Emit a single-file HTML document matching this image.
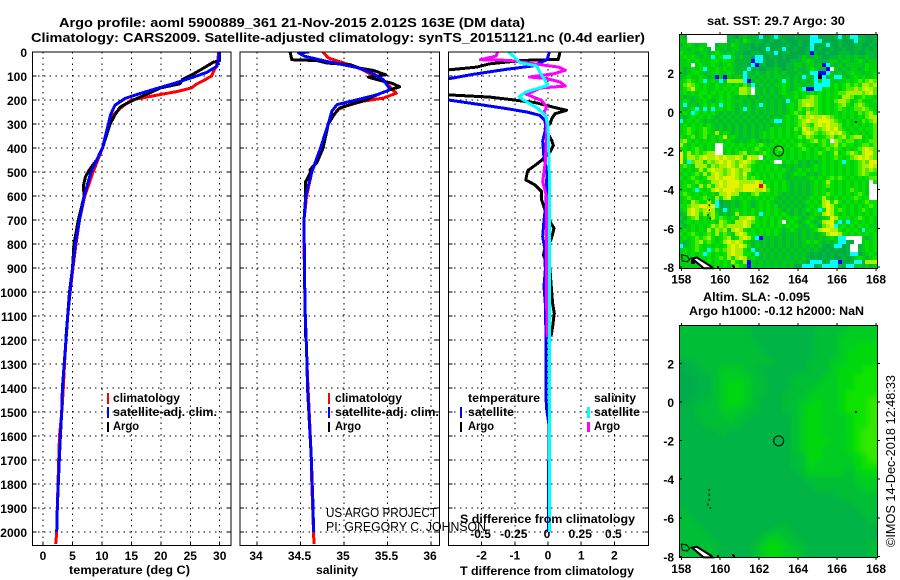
<!DOCTYPE html>
<html>
<head>
<meta charset="utf-8">
<title>Argo profile chart</title>
<style>
html,body{margin:0;padding:0;background:#fff;}
svg{display:block;}
text{font-family:"Liberation Sans",sans-serif;fill:#000;}
.t{font-size:13px;font-weight:bold;}
.k{font-size:12px;font-weight:bold;}
.n{font-size:13px;font-weight:normal;}
</style>
</head>
<body>
<svg id="chart" xmlns="http://www.w3.org/2000/svg" width="900" height="580" viewBox="0 0 900 580">
<defs>
<clipPath id="clip-temp"><rect x="32" y="52" width="199" height="494"/></clipPath>
<clipPath id="clip-sal"><rect x="240" y="52" width="199.5" height="494"/></clipPath>
<clipPath id="clip-diff"><rect x="448.5" y="52" width="200" height="494"/></clipPath>
<clipPath id="clip-sla"><rect x="679" y="326" width="199" height="232"/></clipPath>
<filter id="soft" x="-10%" y="-10%" width="120%" height="120%"><feGaussianBlur stdDeviation="3"/></filter>
</defs>
<g id="maps"></g>
<g id="panels"></g>
<text class="t" x="59" y="27" textLength="466" lengthAdjust="spacingAndGlyphs">Argo profile: aoml 5900889_361 21-Nov-2015 2.012S 163E (DM data)</text>
<text class="t" x="31" y="42" textLength="614" lengthAdjust="spacingAndGlyphs">Climatology: CARS2009. Satellite-adjusted climatology: synTS_20151121.nc (0.4d earlier)</text>
<text class="k" x="69" y="574" textLength="121" lengthAdjust="spacingAndGlyphs">temperature (deg C)</text>
<text class="k" x="316" y="574" textLength="42" lengthAdjust="spacingAndGlyphs">salinity</text>
<text class="k" x="460" y="575" textLength="174" lengthAdjust="spacingAndGlyphs">T difference from climatology</text>
<text class="k" x="460" y="523" textLength="175" lengthAdjust="spacingAndGlyphs">S difference from climatology</text>
<text class="n" x="326" y="517" textLength="111" lengthAdjust="spacingAndGlyphs">US ARGO PROJECT</text>
<text class="n" x="326" y="531" textLength="160" lengthAdjust="spacingAndGlyphs">PI: GREGORY C. JOHNSON</text>

<g>
<rect x="107" y="393" width="2" height="11" fill="#f00"/>
<text class="k" x="113" y="402" textLength="67" lengthAdjust="spacingAndGlyphs">climatology</text>
<rect x="107" y="407" width="2" height="11" fill="#00f"/>
<text class="k" x="113" y="416" textLength="104" lengthAdjust="spacingAndGlyphs">satellite-adj. clim.</text>
<rect x="107" y="422" width="2" height="10" fill="#000"/>
<text class="k" x="113" y="430" textLength="26" lengthAdjust="spacingAndGlyphs">Argo</text>
</g>
<g>
<rect x="328" y="393" width="2" height="11" fill="#f00"/>
<text class="k" x="335" y="402" textLength="67" lengthAdjust="spacingAndGlyphs">climatology</text>
<rect x="328" y="407" width="2" height="11" fill="#00f"/>
<text class="k" x="335" y="416" textLength="104" lengthAdjust="spacingAndGlyphs">satellite-adj. clim.</text>
<rect x="328" y="422" width="2" height="10" fill="#000"/>
<text class="k" x="335" y="430" textLength="26" lengthAdjust="spacingAndGlyphs">Argo</text>
</g>
<g>
<text class="k" x="468" y="402" textLength="72" lengthAdjust="spacingAndGlyphs">temperature</text>
<rect x="460" y="407" width="2" height="11" fill="#00f"/>
<text class="k" x="468" y="416" textLength="46" lengthAdjust="spacingAndGlyphs">satellite</text>
<rect x="460" y="422" width="2" height="10" fill="#000"/>
<text class="k" x="468" y="430" textLength="26" lengthAdjust="spacingAndGlyphs">Argo</text>
<text class="k" x="594" y="402" textLength="42" lengthAdjust="spacingAndGlyphs">salinity</text>
<rect x="587" y="407" width="3" height="11" fill="#0ff"/>
<text class="k" x="594" y="416" textLength="46" lengthAdjust="spacingAndGlyphs">satellite</text>
<rect x="587" y="422" width="3" height="10" fill="#f0f"/>
<text class="k" x="594" y="430" textLength="26" lengthAdjust="spacingAndGlyphs">Argo</text>
</g>

<text class="k" x="707" y="25" textLength="138" lengthAdjust="spacingAndGlyphs">sat. SST: 29.7 Argo: 30</text>
<text class="k" x="703" y="301" textLength="107" lengthAdjust="spacingAndGlyphs">Altim. SLA: -0.095</text>
<text class="k" x="689" y="315" textLength="175" lengthAdjust="spacingAndGlyphs">Argo h1000: -0.12 h2000: NaN</text>
<text class="n" transform="translate(895,547) rotate(-90)" textLength="172" lengthAdjust="spacingAndGlyphs">©IMOS 14-Dec-2018 12:48:33</text>
</svg>

<script>
var depthTicks = [0,100,200,300,400,500,600,700,800,900,1000,1100,1200,1300,1400,1500,1600,1700,1800,1900,2000];
var tempTicks = [0,5,10,15,20,25,30];
var salTicks = [34,34.5,35,35.5,36];
var salTickLabels = ['34','34.5','35','35.5','36'];
var diffTTicks = [-2,-1,0,1,2];
var diffSTicks = [-0.5,-0.25,0,0.25,0.5];
var diffSLabels = ['-0.5','-0.25','0','0.25','0.5'];
var lonTicks = [158,160,162,164,166,168];
var latTicks = [2,0,-2,-4,-6,-8];
var argoLon = [163];
var argoLat = [-2.012];

var tempClimDepth = [0,40,60,80,100,120,135,150,165,180,200,225,262,300,400,500,600,700,800,900,1000,1100,1200,1300,1400,1500,1600,1700,1800,1900,2000,2050];
var tempClimVal = [29.8,29.7,29.4,29.0,28.6,27.2,26,25.2,22.7,19.3,15,13.6,11.9,11.4,10.1,8.5,7.1,6.2,5.6,5.1,4.6,4.2,3.9,3.65,3.45,3.2,2.8,2.66,2.55,2.43,2.32,2.15];
var tempSatDepth = [0,30,60,85,105,132,152,173,194,222,260,300,400,500,600,700,800,900,1000,1100,1200,1300,1400,1500,1600,1700,1800,1900,2000];
var tempSatVal = [29.9,29.9,29.5,27.8,25.5,22.1,19.3,16.5,13.9,12.2,11.5,11.1,10.1,8.15,7.0,6.2,5.5,5.0,4.6,4.2,3.9,3.6,3.3,3.17,2.95,2.77,2.6,2.43,2.32];
var tempArgoDepth = [0,35,43,68,92,114,132,150,173,194,215,229,262,300,400,450,490,520,560,600,700,800,900,1000,1190];
var tempArgoVal = [30,30,28.9,27.2,25.5,23.7,23.3,19.9,17.9,15.9,14.2,13.1,12.2,11.4,10.1,9.1,7.9,7.2,6.85,7,6,5.26,5,4.5,3.9];

var salClimDepth = [0,25,54,75,103,130,172,192,205,224,240,260,300,400,500,600,700,800,1000,1100,1200,1300,1400,1500,1600,1700,1800,1900,2000,2050];
var salClimVal = [34.76,34.82,35.07,35.22,35.36,35.49,35.6,35.45,35.22,35.03,34.93,34.89,34.82,34.74,34.63,34.57,34.54,34.54,34.55,34.555,34.565,34.575,34.586,34.6,34.613,34.625,34.63,34.64,34.65,34.655];
var salSatDepth = [0,3,18,39,53,67,87,115,150,160,178,199,219,247,300,400,500,600,700,1000,1100,1200,1300,1400,1500,1600,1700,1800,1900,2000];
var salSatVal = [34.6,34.475,34.55,34.8,34.99,35.18,35.32,35.45,35.52,35.51,35.38,35.15,34.92,34.86,34.82,34.73,34.63,34.56,34.54,34.55,34.555,34.565,34.575,34.58,34.595,34.61,34.625,34.635,34.645,34.65];
var salArgoDepth = [0,32,36,46,53,67,77,95,105,115,130,145,157,178,199,219,233,262,300,400,460,490,500,540,600,700,1000,1190];
var salArgoVal = [34.38,34.4,34.69,34.8,35.07,35.18,35.34,35.48,35.28,35.38,35.55,35.64,35.53,35.38,35.26,35.07,34.95,34.88,34.82,34.76,34.69,34.61,34.62,34.56,34.56,34.54,34.55,34.56];

var diffTArgoDepth = [0,31,35,49,63,76,178,188,198,212,230,243,257,278,299,320,368,389,417,451,472,493,505,533,554,582,617,658,707,735,783,818,846,880,908,963,1047,1089,1144,1186];
var diffTArgoVal = [0.36,0.31,-0.75,-1.75,-2.15,-3.1,-3.1,-1.75,-1.14,-0.34,0.16,0.56,0.21,0.11,0.06,-0.09,0.11,0.16,0.06,-0.19,-0.39,-0.6,-0.63,-0.67,-0.39,-0.19,-0.19,-0.09,0.06,0.18,0.09,-0.09,-0.14,-0.04,0.06,0.09,0.14,0.19,0.14,0.09];
var diffTSatDepth = [0,31,58,72,93,114,198,215,236,250,264,285,320,372,442,497,630,700,770,825,908,977,1047,1186,1367,1477,1555,1650,1800,2000];
var diffTSatVal = [0.04,-0.02,-0.45,-1.25,-2.25,-3.1,-3.1,-2.25,-1.25,-0.64,-0.24,-0.09,-0.07,-0.16,-0.12,-0.03,-0.06,-0.12,-0.16,-0.09,-0.08,-0.12,-0.08,-0.06,-0.06,-0.05,0.03,0.03,0.01,0.01];
var diffSArgoDepth = [0,17,32,35,54,63,76,90,104,111,125,142,150,167,174,188,201,229,250,280,340,458,540,603,800,1060,1190];
var diffSArgoVal = [-0.38,-0.39,-0.51,-0.29,-0.04,0.08,0.13,0.05,-0.14,-0.01,0.09,0.13,-0.06,-0.12,-0.17,-0.11,-0.05,-0.01,-0.03,-0.01,-0.01,-0.02,-0.04,-0.01,-0.01,-0.01,-0.005];
var diffSSatDepth = [0,17,45,58,86,111,139,153,167,188,208,236,264,300,500,800,1200,1600,2000];
var diffSSatVal = [-0.3,-0.26,-0.21,-0.085,-0.06,-0.03,0,-0.085,-0.17,-0.22,-0.16,-0.075,-0.02,0,0.01,0.01,0.01,0.01,0.01];

var sstPalette = {a:'#00aa46',b:'#00ba38',c:'#00d010',d:'#00e400',e:'#50ea00',f:'#a8f000',g:'#e4f400',C:'#00ffff',B:'#0000ff',W:'#ffffff',R:'#ff0000',K:'#000000'};
var sstRows = [
"cbWWWWWWWWWWbbabcbbbCaabCbaaabaaaCCaaaabCabCCbbaab",
"ccWWWWWWWWWWbbcbdcbbbaabaabaaabaaCCCaaaabaaaCbbaab",
"bcdcbccWWbccbdcbbbabaabaaaabaabaaCaabCaabaaabbaaba",
"ccbccdcbWcbcbccbbbaaabCaabCaabaabCabaabaabaabbabab",
"dcccbccbcdcbccbbaabbaabbCaabaaaabBbaabaabbbabaabbb",
"cdcdcbccCcdCCcbcbbaCCaabaabaaabcbbcbaabbcbcbcbbcbb",
"ccdcdcccddcdccbbbbBCCbaabaaabbbcdcbbbbccbccbcdcbcc",
"cccWcdccdcbcdcbbbaCBbbaabaabbccbccbcBCcbcbccccbdcc",
"cbcdcdCccdcdccbbbCbbaabbcbabbcbbcdcbbBWcbcbccbcdcc",
"cbccdcbccdccdcbbCbbcbbcbcbcbbbcbbCCBBCcbcbcdccbccd",
"bcdccdcbcBcBcbccCbcbcbcbccbcbcbCcbCKCbcCCcbcdcdccd",
"cdedcdCcdcCbffffCBbcbcbcbcCcbcbcbcCcCCcbccdcdedefe",
"cefedcdccdccdcdcecCbcbcbccdcbccbccCCCCcdcdededffef",
"cdegdcdccdcdcdcffeWcbcbcbcdcbcdCBBCCcdcdcdeefefgfe",
"cdcdcddcdcdcdcdffeWcbcbcbcdccdcdcdcdcdcdeeffffefge",
"cbcbcdcdccdcdcbccbcbcbcbcbcccdcdefedcdcdcffecdeddc",
"cdcbccdcbcdcdcccbcbcbcbcbcbCccefffedcdceffecdedccd",
"cCbcbcdcdcCcdcbcbcbcCcbcbcbcdcefgfedcdcdefdcefedcc",
"cbcdCcCcCcdcdcbcCcbcbcbcbcbcdcedededcdcdedcdeefedc",
"cdcCdcdcdcbcbcbcbcbcbcbcbcbcdedcfeedcdcdcdcdcedefd",
"cbcdcdcdcbcbcbcbcbcbcbcbcbcdcdfefgffgfedcdcdcdceff",
"CcdcdcbcbcbcbcbcbcbcbcbcCCcdcdefgffgggfedcdcdcedef",
"cdcdcdcdcbcbcbcbcbcbcbcbcbcdcdefedfgfgffecdcdcdcde",
"cdedcdedcbcbcbcbcbcbcbcdcdcdcedgfefefgfgedcdcdcdde",
"cdedcdedcfcdcbcbcbcbcdcdcdcdcdcfgfedefgfgedcdcdcde",
"dcdecdecdcdgcdcbcbcbcdcdcdcdcdedfedcdefdefdeffcdce",
"efdcdcdcdcdcdcbcbcdcbcbcdcdcdcdcdefdedWfedeecdcdee",
"fdcdcdcdcWWdcdcdcdcdedcdcdcdcdedcdcdedefdeddcdeede",
"ddcdedcdcWWcdcdcdcdedcdcdedcdcdedcdcdededcdcdefgfe",
"gdfdedeffWWcdcdefcdcdedcdcdcdcdcdcdedcdfcdefedfgge",
"gdffefgffgfgffgfdgffWcdcdcdcdcdcdcdcdcdedcdefgfgfe",
"gcCeffdfefgfgfefgfedcdcdWWcdcdbcbcbcdcdcdCdcdefegg",
"dedcfffdfeffgfegfedcdcdcdcbcbcbcbcdcdcdcdcdcdeffgf",
"dcdcdfdfgffefgfeffdcdcdcdcdcbcdcdcdcdcdcdcdcdefefe",
"cdcdedfdfgfefgfegdcdcdcdcdcbcdcdbcbcdcdcdcdcdefedd",
"dcdedcdffgfgggfefdedcdcdcdcbcbcbcdcdcdededcdcdcdee",
"cdcdedcdffgfgggffffgfcdcdcdcbcbcbcdcdfdcdcdcdcdcWd",
"cdedcfdfdfgfgggfggggRgdcdcdcbcbcbcdcdedcdcdcdcdcWW",
"cdcdCdcdfgfgggffgggffgecdcdcbcbcbcdcdcdcdcdedcdcWW",
"dedcdcdcdcffgffcdcefdcdcdcbcbcbcbcdcdedcdcdcdedcWW",
"cdedcdedcfdfgdcdcdcdcdcdcbcbcbcbcdcdfdcdcdcdedcdWW",
"cdcfeddfcCabbcbcdcbcdcdcbcbcbcbcdcdcfgdfdcdcdcdedd",
"ddeffggfgCabbcbcdcbcdcdcdbcbcbcbcdcdfgfdcdcdcdcded",
"cdfgfefgfcbCbcdcdcdcdcdcdcbcbcbcdcdCdgfdedcdcdedcd",
"bcfgfdfefdbcbcfcdcdcCcdcdcdcbcbcbcdcfgfdcdcdcdcdcd",
"cbdefcdcfdedcdcffgfdcdcdcdcdcdcbcdcbcdgfdcdcdedcdc",
"bcdcdcdcdcfedcffgfedcdcdcdWcdcbcdcbcfggdCcCcdcdcdc",
"cbcdcdcdfefeffffgfcdcdcdcdcdcdcbcdcbefgCcdcdcdcdcc",
"cdcdcdcfdfefcfgfdcdcdcdcdcbcdcbcbcdfggffdcdcdcCcdc",
"dcdedcdedfdedcfgfddcdcdcdcbcbcbcbcbcdfggfdcdcdcdcd",
"cdcdedefdcdefcdfgfdCBcbcbcbcbcbcbcbcbcdcCCWWWWcbcd",
"cbcdefdedcdfgfgfdcbcbcbcbcbcbcbcdcdcbcbcCCbaWWcdcd",
"CbcdedcdcdcdfgfgfdbcbcbcbcbcbcbcbcbcbabCCabWWbcdcd",
"cdcdedcCdedefgffdcCbcbcbcbcbcbcbcbcbababaabWWbcdcd",
"cdcdcdCdcdcdfgffddcCbcbcbcbcbcbcbabababababCCabcdc",
"cccdcdcdcdedfdfgfcdcbcbcbcbcbcbcbabababaababcdcbcd",
"cccKcdcdcdcdcfdcfBcbcbcbcbcbcbcbaCCCabCCBaabCCbfff",
"ccccccKdcdcdcdedcBcbcbcbcbcbcaaCCCabCCCCbaCCbcbcbc"
];
var slaPalette = ['#00a850','#00ac4c','#00b444','#00be36','#00cc22','#00d810','#0ce400','#34e800'];
var slaRows = [
"3333333332222222233334444",
"3333333332222222233344444",
"3333333333222222233344555",
"3333333333322222233345555",
"2233333333332222333445555",
"1223344433222222333455566",
"1122344443322233334455666",
"1122345543322233344455666",
"1122345543322333444456666",
"1223345543222334454456667",
"2233344433222334554456667",
"2233334332222234554445667",
"2223333322222234554445667",
"2222232222222234554445677",
"2222222222222234555445677",
"2222222222222234554445677",
"2222222222222233554444567",
"2222222222222233544444566",
"2222222222222223444443455",
"2222222222222222333333444",
"2222222222222222233333344",
"2222222222222222222233333",
"2222222222222222222222333",
"3222222222222222222222233",
"3322222222222222222222223",
"3332222222223322222222222",
"3333222222344332222222222",
"3333322223455433222222223",
"3333322223455443222222223"
];
var landLon = [158.55,158.8,159.55,159.6,159.15];
var landLat = [-7.55,-7.5,-7.98,-8.05,-8.05];
var reefLoopLon = [158,158.3,158.42,158.3,158.05,158];
var reefLoopLat = [-7.35,-7.42,-7.6,-7.72,-7.68,-7.35];
var islandLon = [159.45,159.42,159.45,159.35,159.5,159.7];
var islandLat = [-4.5,-4.6,-5.0,-5.4,-5.5,-5.55];
var speckLon = [166.95,160.65,160.7,159.9];
var speckLat = [-0.5,-7.92,-8.0,-7.98];

var NS = 'http://www.w3.org/2000/svg';
var panelsG = document.getElementById('panels');
var mapsG = document.getElementById('maps');

function yDepth(d){ return 52 + d * 0.24; }
function xTemp(t){ return 43 + t * 5.89; }
function xSal(s){ return 257 + (s - 34) * 87; }
function xDiffT(v){ return 548 + v * 33.2; }
function xDiffS(v){ return 548 + v * 132.8; }

function svgEl(tag, parent){
  var el = document.createElementNS(NS, tag);
  parent.appendChild(el);
  return el;
}

function drawSeries(parent, depths, vals, xf, color, clip, name){
  var pts = [];
  for (var i = 0; i < depths.length; i++) { pts.push(xf(vals[i]).toFixed(1) + ',' + yDepth(depths[i]).toFixed(1)); }
  var el = svgEl('polyline', parent);
  el.setAttribute('points', pts.join(' '));
  el.setAttribute('fill', 'none');
  el.setAttribute('stroke', color);
  el.setAttribute('stroke-width', '3');
  el.setAttribute('shape-rendering', 'crispEdges');
  el.setAttribute('stroke-linejoin', 'round');
  el.setAttribute('clip-path', 'url(#' + clip + ')');
  
  
}

function gridLine(parent, x1, y1, x2, y2){
  var el = svgEl('line', parent);
  el.setAttribute('x1', x1); el.setAttribute('y1', y1); el.setAttribute('x2', x2); el.setAttribute('y2', y2);
  el.setAttribute('stroke', '#000');
  el.setAttribute('stroke-width', '1');
  el.setAttribute('stroke-dasharray', '1.5 4.2');
  el.setAttribute('shape-rendering', 'crispEdges');
  
  
}

function tick(parent, x1, y1, x2, y2){
  var el = svgEl('line', parent);
  el.setAttribute('x1', x1); el.setAttribute('y1', y1); el.setAttribute('x2', x2); el.setAttribute('y2', y2);
  el.setAttribute('stroke', '#000');
  el.setAttribute('stroke-width', '1');
  el.setAttribute('shape-rendering', 'crispEdges');
  
  
}

function label(parent, x, y, str, anchor, name){
  var el = svgEl('text', parent);
  el.setAttribute('x', x); el.setAttribute('y', y);
  el.setAttribute('class', 'k');
  el.setAttribute('text-anchor', anchor);
  
  
  el.textContent = str;
}

function frame(parent, x, y, w, h, sw, name){
  var el = svgEl('rect', parent);
  el.setAttribute('x', x); el.setAttribute('y', y); el.setAttribute('width', w); el.setAttribute('height', h);
  el.setAttribute('fill', 'none');
  el.setAttribute('stroke', '#000');
  el.setAttribute('stroke-width', sw);
  el.setAttribute('shape-rendering', 'crispEdges');
  
  
}

function panelAxes(left, right, xf, ticks, name){
  var g = svgEl('g', panelsG);
  
  
  var top = 52, bottom = 545.5;
  depthTicks.forEach(function(d){
    var y = yDepth(d);
    gridLine(g, left, y, right, y);
    tick(g, left, y, left + 4, y);
    tick(g, right - 4, y, right, y);
  });
  ticks.forEach(function(v){
    var x = xf(v);
    gridLine(g, x, top, x, bottom);
    tick(g, x, bottom - 4, x, bottom);
  });
  return g;
}

var tempG = panelAxes(32.5, 231, xTemp, tempTicks, 'temperature-panel');
var salG = panelAxes(240, 439.5, xSal, salTicks, 'salinity-panel');
var diffG = panelAxes(448.5, 648.5, xDiffT, diffTTicks, 'difference-panel');

depthTicks.forEach(function(d){
  label(tempG, 27, yDepth(d) + 5, String(d), 'end', 'depth-tick-label');
});
tempTicks.forEach(function(v){
  label(tempG, xTemp(v), 560, String(v), 'middle', 'temperature-tick-label');
});
salTicks.forEach(function(v, i){
  label(salG, xSal(v) - 1, 560, salTickLabels[i], 'middle', 'salinity-tick-label');
});
diffTTicks.forEach(function(v){
  label(diffG, xDiffT(v), 559.5, String(v), 'middle', 't-difference-tick-label');
});
diffSTicks.forEach(function(v, i){
  label(diffG, xDiffS(v) - 1, 538, diffSLabels[i], 'middle', 's-difference-tick-label');
});

drawSeries(tempG, tempClimDepth, tempClimVal, xTemp, '#ff0000', 'clip-temp', 'temperature-climatology-line');
drawSeries(tempG, tempArgoDepth, tempArgoVal, xTemp, '#000000', 'clip-temp', 'temperature-argo-line');
drawSeries(tempG, tempSatDepth, tempSatVal, xTemp, '#0000ff', 'clip-temp', 'temperature-satellite-line');
drawSeries(salG, salClimDepth, salClimVal, xSal, '#ff0000', 'clip-sal', 'salinity-climatology-line');
drawSeries(salG, salArgoDepth, salArgoVal, xSal, '#000000', 'clip-sal', 'salinity-argo-line');
drawSeries(salG, salSatDepth, salSatVal, xSal, '#0000ff', 'clip-sal', 'salinity-satellite-line');
drawSeries(diffG, diffTArgoDepth, diffTArgoVal, xDiffT, '#000000', 'clip-diff', 't-difference-argo-line');
drawSeries(diffG, diffTSatDepth, diffTSatVal, xDiffT, '#0000ff', 'clip-diff', 't-difference-satellite-line');
drawSeries(diffG, diffSArgoDepth, diffSArgoVal, xDiffS, '#ff00ff', 'clip-diff', 's-difference-argo-line');
drawSeries(diffG, diffSSatDepth, diffSSatVal, xDiffS, '#00ffff', 'clip-diff', 's-difference-satellite-line');

frame(tempG, 32.5, 52, 198.5, 493.5, 1, 'temperature-panel-frame');
frame(salG, 240, 52, 199.5, 493.5, 1, 'salinity-panel-frame');
frame(diffG, 448.5, 52, 200, 493.5, 1, 'difference-panel-frame');

function drawMap(name, rows, colorOf, latZero, latScale, latTop, latBottom, labelY, smooth){
  var g = svgEl('g', mapsG);
  
  
  var wrap = svgEl('g', g);
  var cells = svgEl('g', wrap);
  if (smooth) {
    wrap.setAttribute('clip-path', 'url(#clip-sla)');
    cells.setAttribute('filter', 'url(#soft)');
  }
  function xLon(lon){ return 681.3 + (lon - 158) * 19.47; }
  function yLat(lat){ return latZero - lat * latScale; }
  var lonMin = 157.9, lonMax = 168.07;
  var nRows = rows.length, nCols = rows[0].length;
  var dLon = (lonMax - lonMin) / nCols, dLat = (latTop - latBottom) / nRows;
  var pad = smooth ? 12 : 0;
  for (var r = 0; r < nRows; r++) {
    for (var c = 0; c < nCols; c++) {
      var ch = rows[r].charAt(c);
      if (!ch) continue;
      var x0 = Math.round(xLon(lonMin + c * dLon)), x1 = Math.round(xLon(lonMin + (c + 1) * dLon));
      var y0 = Math.round(yLat(latTop - r * dLat)), y1 = Math.round(yLat(latTop - (r + 1) * dLat));
      if (c === 0) x0 -= pad;
      if (c === nCols - 1) x1 += pad;
      if (r === 0) y0 -= pad;
      if (r === nRows - 1) y1 += pad;
      var cell = svgEl('rect', cells);
      cell.setAttribute('x', x0);
      cell.setAttribute('y', y0);
      cell.setAttribute('width', x1 - x0);
      cell.setAttribute('height', y1 - y0);
      cell.setAttribute('fill', colorOf(ch));
      cell.setAttribute('shape-rendering', 'crispEdges');
      
      
    }
  }
  var top = yLat(latTop), bottom = yLat(latBottom);
  frame(g, 679.5, Math.round(top) - 0.5, 198, Math.round(bottom) - Math.round(top) + 1, 1, 'map-frame');
  lonTicks.forEach(function(lon){
    tick(g, xLon(lon), top - 3, xLon(lon), top);
    tick(g, xLon(lon), bottom, xLon(lon), bottom + 3);
    label(g, xLon(lon), labelY, String(lon), 'middle', 'longitude-tick-label');
  });
  latTicks.forEach(function(lat){
    tick(g, 679, yLat(lat), 682, yLat(lat));
    tick(g, 877, yLat(lat), 880, yLat(lat));
    label(g, 674, yLat(lat) + 5, String(lat), 'end', 'latitude-tick-label');
  });
  var landPts = landLon.map(function(v, i){ return xLon(v).toFixed(1) + ',' + yLat(landLat[i]).toFixed(1); });
  var land = svgEl('polygon', g);
  land.setAttribute('points', landPts.join(' '));
  land.setAttribute('fill', '#fff');
  land.setAttribute('stroke', '#000');
  land.setAttribute('stroke-width', '2');
  
  
  var loopPts = reefLoopLon.map(function(v, i){ return xLon(v).toFixed(1) + ',' + yLat(reefLoopLat[i]).toFixed(1); });
  var loop = svgEl('polyline', g);
  loop.setAttribute('points', loopPts.join(' '));
  loop.setAttribute('fill', 'none');
  loop.setAttribute('stroke', '#000');
  loop.setAttribute('stroke-width', '1');
  
  
  var islandPts = islandLon.map(function(v, i){ return xLon(v).toFixed(1) + ',' + yLat(islandLat[i]).toFixed(1); });
  var island = svgEl('polyline', g);
  island.setAttribute('points', islandPts.join(' '));
  island.setAttribute('fill', 'none');
  island.setAttribute('stroke', '#000');
  island.setAttribute('stroke-width', '1');
  island.setAttribute('stroke-dasharray', '2 3');
  
  
  speckLon.forEach(function(v, i){
    var speck = svgEl('rect', g);
    speck.setAttribute('x', Math.round(xLon(v)) - 1);
    speck.setAttribute('y', Math.round(yLat(speckLat[i])) - 1);
    speck.setAttribute('width', 2);
    speck.setAttribute('height', 2);
    speck.setAttribute('fill', '#000');
    
    
  });
  var marker = svgEl('circle', g);
  marker.setAttribute('cx', xLon(argoLon[0]));
  marker.setAttribute('cy', yLat(argoLat[0]));
  marker.setAttribute('r', 5);
  marker.setAttribute('fill', 'none');
  marker.setAttribute('stroke', '#000');
  marker.setAttribute('stroke-width', '1');
  
  
}

drawMap('sst-map', sstRows, function(ch){ return sstPalette[ch]; }, 112, 19.4, 3.97, -8.04, 283.5, false);
drawMap('sla-map', slaRows, function(ch){ return slaPalette[+ch]; }, 402, 19.3, 3.95, -8.03, 573, true);
</script>
</body>
</html>
